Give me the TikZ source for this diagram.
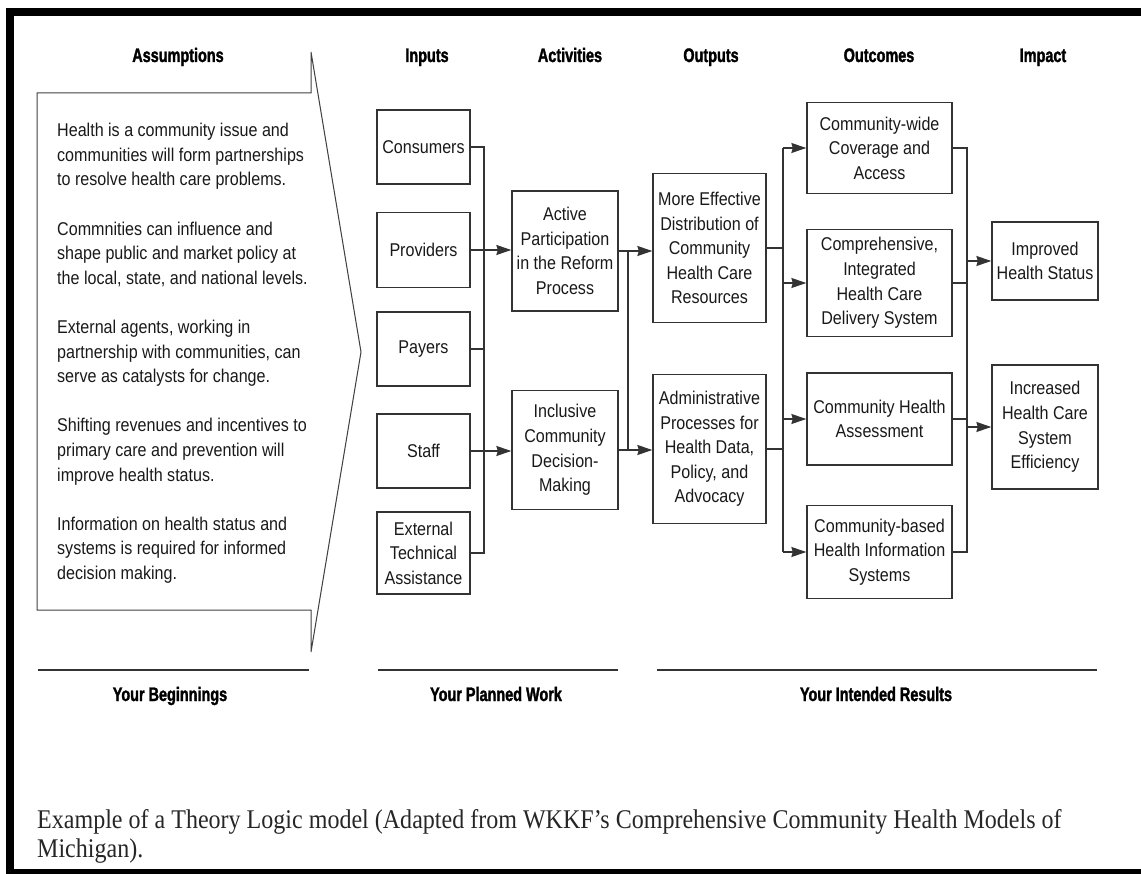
\documentclass[tikz,border=0pt]{standalone}
\usepackage{fontspec}
\setmainfont{Liberation Sans}
\newfontfamily\bodyfont[FakeStretch=0.87]{Liberation Sans}
\newfontfamily\headfont[FakeStretch=0.74, BoldFeatures={FakeBold=1.6}]{Liberation Sans}
\newfontfamily\capfont[FakeStretch=0.89]{Liberation Serif}
\usetikzlibrary{arrows.meta,calc}
\begin{document}
\begin{tikzpicture}[x=1pt,y=-1pt,
  box/.style={draw=black!80, line width=1.3pt, fill=white, align=center, inner sep=2pt,
    text=black!90, font=\bodyfont\fontsize{18.5}{24.6}\selectfont},
  hd/.style={anchor=base, font=\headfont\bfseries\fontsize{19.5}{22}\selectfont, text=black, inner sep=0pt},
  conn/.style={draw=black!80, line width=1.3pt},
  arr/.style={conn, -{Stealth[length=15pt,width=10pt,inset=1.5pt]}},
  para/.style={anchor=north west, align=left, inner sep=0pt,
    font=\bodyfont\fontsize{18.5}{24.6}\selectfont, text=black!90},
  rule/.style={draw=black!80, line width=1.3pt},
]
\useasboundingbox (0,0) rectangle (1141,874);
% frame
\fill[black] (6,8) rectangle (1141,16);
\fill[black] (6,8) rectangle (14,874);
\fill[black] (6,869) rectangle (1141,874);

% assumptions arrow
\draw[black!75, line width=1pt] (37,93) -- (311,93) -- (311,52) -- (361,352)
  -- (311,652) -- (311,610) -- (37,610) -- cycle;
\node[para] (asm) at (57,123) {Health is a community issue and\\communities will form partnerships\\to resolve health care problems.\\[24.6pt]
Commnities can influence and\\shape public and market policy at\\the local, state, and national levels.\\[24.6pt]
External agents, working in\\partnership with communities, can\\serve as catalysts for change.\\[24.6pt]
Shifting revenues and incentives to\\primary care and prevention will\\improve health status.\\[24.6pt]
Information on health status and\\systems is required for informed\\decision making.};

% headings
\node[hd] (h1) at (178,62) {Assumptions};
\node[hd] (h2) at (427,62) {Inputs};
\node[hd] (h3) at (570,62) {Activities};
\node[hd] (h4) at (711,62) {Outputs};
\node[hd] (h5) at (879,62) {Outcomes};
\node[hd] (h6) at (1043,62) {Impact};

% inputs
\node[box, minimum width=93, minimum height=74] (cons) at (423.5,147) {Consumers};
\node[box, minimum width=93, minimum height=75] (prov) at (423.5,250) {Providers};
\node[box, minimum width=93, minimum height=74] (pay) at (423.5,349) {Payers};
\node[box, minimum width=93, minimum height=74] (staff) at (423.5,451) {Staff};
\node[box, minimum width=93, minimum height=82] (ext) at (423.5,553) {External\\Technical\\Assistance};

% activities
\node[box, minimum width=106, minimum height=120] (act) at (565,251) {Active\\Participation\\in the Reform\\Process};
\node[box, minimum width=106, minimum height=119] (incl) at (565,450) {Inclusive\\Community\\Decision-\\Making};

% outputs
\node[box, minimum width=113, minimum height=149] (more) at (709.5,248) {More Effective\\Distribution of\\Community\\Health Care\\Resources};
\node[box, minimum width=113, minimum height=149] (adm) at (709.5,449) {Administrative\\Processes for\\Health Data,\\Policy, and\\Advocacy};

% outcomes
\node[box, minimum width=145, minimum height=91] (cw) at (879.5,148) {Community-wide\\Coverage and\\Access};
\node[box, minimum width=145, minimum height=107] (comp) at (879.5,283) {Comprehensive,\\Integrated\\Health Care\\Delivery System};
\node[box, minimum width=145, minimum height=92] (cha) at (879.5,419) {Community Health\\Assessment};
\node[box, minimum width=145, minimum height=93] (cb) at (879.5,552) {Community-based\\Health Information\\Systems};

% impact
\node[box, minimum width=106, minimum height=78] (imp) at (1045,261) {Improved\\Health Status};
\node[box, minimum width=106, minimum height=124] (inc) at (1045,427) {Increased\\Health Care\\System\\Efficiency};

% bus coordinates
\coordinate (ibx) at (484,0);
\coordinate (abx) at (628,0);
\coordinate (obx) at (783,0);
\coordinate (rbx) at (967,0);

% inputs -> activities
\draw[conn] (cons.east) -- (cons.east -| ibx) -- (ext.east -| ibx) -- (ext.east);
\draw[conn] (pay.east) -- (pay.east -| ibx);
\draw[arr] (prov.east) -- (prov.east -| act.west);
\draw[arr] (staff.east) -- (staff.east -| incl.west);

% activities -> outputs
\draw[conn] (act.east -| abx) -- (incl.east -| abx);
\draw[arr] (act.east) -- (act.east -| more.west);
\draw[arr] (incl.east) -- (incl.east -| adm.west);

% outputs -> outcomes
\draw[conn] (more.east) -- (more.east -| obx);
\draw[conn] (adm.east) -- (adm.east -| obx);
\draw[conn] (cw.west -| obx) -- (cb.west -| obx);
\draw[arr] (cw.west -| obx) -- (cw.west);
\draw[arr] (comp.west -| obx) -- (comp.west);
\draw[arr] (cha.west -| obx) -- (cha.west);
\draw[arr] (cb.west -| obx) -- (cb.west);

% outcomes -> impact
\draw[conn] (cw.east) -- (cw.east -| rbx) -- (cb.east -| rbx) -- (cb.east);
\draw[conn] (comp.east) -- (comp.east -| rbx);
\draw[conn] (cha.east) -- (cha.east -| rbx);
\draw[arr] (imp.west -| rbx) -- (imp.west);
\draw[arr] (inc.west -| rbx) -- (inc.west);

% bottom rules and labels
\draw[rule] (38,670) -- (309,670);
\draw[rule] (378,670) -- (618,670);
\draw[rule] (657,670) -- (1097,670);
\node[hd] (f1) at (170,701) {Your Beginnings};
\node[hd] (f2) at (496,701) {Your Planned Work};
\node[hd] (f3) at (876,701) {Your Intended Results};

% caption
\node[anchor=north west, align=left, inner sep=0pt, text=black!85,
  font=\capfont\fontsize{27}{29.5}\selectfont] (cap) at (37,809)
  {Example of a Theory Logic model (Adapted from WKKF’s Comprehensive Community Health Models of\\Michigan).};
\end{tikzpicture}
\end{document}
